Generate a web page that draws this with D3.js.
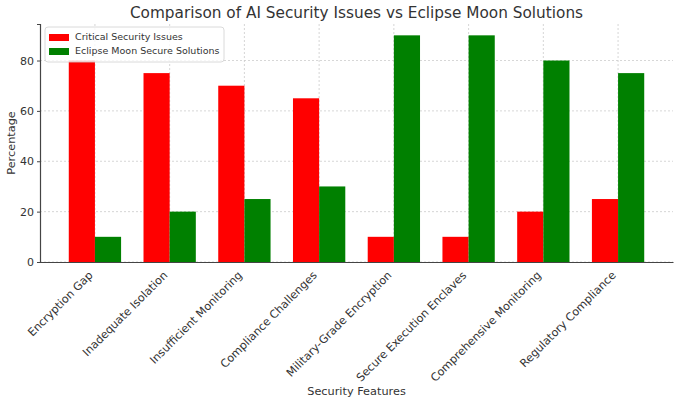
<!DOCTYPE html>
<html>
<head>
<meta charset="utf-8">
<script src="https://cdn.jsdelivr.net/npm/d3@7"></script>
<style>
  body { margin: 0; background: #fff; }
  text { font-family: "DejaVu Sans", sans-serif; fill: #333; }
</style>
</head>
<body>
<div id="chart"></div>
<script>
let categories = ["Encryption Gap", "Inadequate Isolation", "Insufficient Monitoring", "Compliance Challenges",
    "Military-Grade Encryption", "Secure Execution Enclaves", "Comprehensive Monitoring", "Regulatory Compliance"];
let issues = [80, 75, 70, 65, 10, 10, 20, 25];
let solutions = [10, 20, 25, 30, 90, 90, 80, 75];
let yTicks = [0, 20, 40, 60, 80];
let seriesNames = ["Critical Security Issues", "Eclipse Moon Secure Solutions"];
let seriesColors = ["#ff0000", "#008000"];

let drawChart = function(){
    let margin = {top: 24, right: 7, bottom: 143, left: 40};
    let width = 680 - margin.left - margin.right;
    let height = 405 - margin.top - margin.bottom;
    let barW = 0.35;

    let svg = d3.select("#chart")
        .append("svg")
        .attr("width", 680)
        .attr("height", 405)
        .append("g")
        .attr("transform", "translate(" + margin.left + "," + margin.top + ")");

    // matplotlib-like 5% margins around the bars
    let lo = -barW, hi = categories.length - 1 + barW;
    let pad = (hi - lo) * 0.05;
    let x = d3.scaleLinear().domain([lo - pad, hi + pad]).range([0, width]);
    let y = d3.scaleLinear().domain([0, d3.max(solutions.concat(issues)) * 1.05]).range([height, 0]);

    // grid
    svg.append("g")
        .selectAll("line.gx")
        .data(categories)
        .enter()
        .append("line")
        .attr("x1", (d, i) => x(i)).attr("x2", (d, i) => x(i))
        .attr("y1", 0).attr("y2", height)
        .attr("stroke", "#cccccc").attr("stroke-width", 0.8)
        .attr("stroke-dasharray", "2,2");

    svg.append("g")
        .selectAll("line.gy")
        .data(yTicks)
        .enter()
        .append("line")
        .attr("x1", 0).attr("x2", width)
        .attr("y1", d => y(d)).attr("y2", d => y(d))
        .attr("stroke", "#cccccc").attr("stroke-width", 0.8)
        .attr("stroke-dasharray", "2,2");

    // bars
    let series = [issues, solutions];
    series.forEach(function(vals, s){
        svg.append("g")
            .selectAll("rect")
            .data(vals)
            .enter()
            .append("rect")
            .attr("x", (d, i) => x(i + (s == 0 ? -barW : 0)))
            .attr("width", x(barW) - x(0))
            .attr("y", d => y(d))
            .attr("height", d => height - y(d))
            .attr("fill", seriesColors[s]);
    });

    // axes
    let yAxis = svg.append("g")
        .call(d3.axisLeft(y).tickValues(yTicks).tickSize(3).tickPadding(3));
    yAxis.select(".domain").attr("stroke", "#444").attr("stroke-width", 1.2);
    yAxis.selectAll(".tick line").attr("stroke", "#444");
    yAxis.selectAll("text").style("font-size", "11px").attr("fill", "#333").style("font-family", "DejaVu Sans");

    let xAxis = svg.append("g")
        .attr("transform", "translate(0," + height + ")")
        .call(d3.axisBottom(x).tickValues(d3.range(categories.length)).tickFormat((d) => categories[d]).tickSize(0));
    xAxis.select(".domain").attr("stroke", "#444").attr("stroke-width", 1.2);
    xAxis.selectAll("text")
        .style("font-size", "11.2px").attr("fill", "#333").style("font-family", "DejaVu Sans")
        .attr("text-anchor", "end")
        .attr("dy", 0)
        .attr("y", 0)
        .attr("x", 0)
        .attr("transform", "translate(-2,14) rotate(-45)");

    // title & labels
    svg.append("text")
        .attr("x", width / 2)
        .attr("y", -6)
        .attr("text-anchor", "middle")
        .style("font-size", "15.3px")
        .text("Comparison of AI Security Issues vs Eclipse Moon Solutions");

    svg.append("text")
        .attr("x", width / 2)
        .attr("y", height + 133)
        .attr("text-anchor", "middle")
        .style("font-size", "11.3px")
        .text("Security Features");

    svg.append("text")
        .attr("text-anchor", "middle")
        .attr("transform", "translate(-25," + height / 2 + ")rotate(-90)")
        .style("font-size", "11.3px")
        .text("Percentage");

    // legend
    let lg = svg.append("g").attr("transform", "translate(5,3)");
    lg.append("rect")
        .attr("width", 179).attr("height", 35)
        .attr("rx", 3)
        .attr("fill", "#fff").attr("fill-opacity", 0.8)
        .attr("stroke", "#d0d0d0").attr("stroke-width", 0.8);
    seriesNames.forEach(function(name, i){
        lg.append("rect").attr("x", 4).attr("y", 7 + i * 14).attr("width", 20).attr("height", 7).attr("fill", seriesColors[i]);
        lg.append("text").attr("x", 30).attr("y", 10.5 + i * 14)
            .attr("dominant-baseline", "middle")
            .style("font-size", "9.5px")
            .text(name);
    });
}

drawChart();
</script>
</body>
</html>
